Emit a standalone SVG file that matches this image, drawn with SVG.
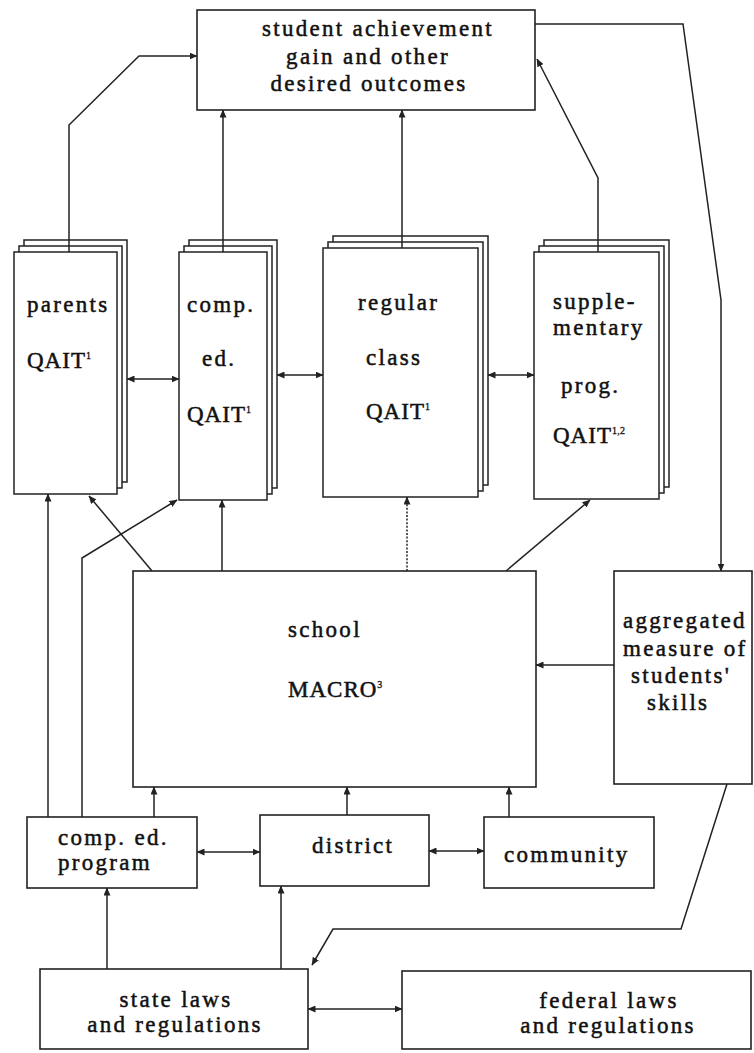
<svg xmlns="http://www.w3.org/2000/svg" width="754" height="1053" viewBox="0 0 754 1053">
<style>
  .box{fill:#fff;stroke:#222;stroke-width:1.6}
  .pg{fill:#fff;stroke:#222;stroke-width:1.5}
  .t{font-family:"Liberation Serif","Times New Roman",serif;font-size:23px;letter-spacing:2.3px;fill:#111;stroke:#111;stroke-width:0.5}
  .m{text-anchor:middle}
  .q{letter-spacing:1px}
  .sup{font-size:10px;letter-spacing:0.3px;stroke-width:0.3}
  .c{fill:none;stroke:#222;stroke-width:1.5}
  .dot{stroke-dasharray:2 1.6}
</style>
<defs>
  <marker id="ah" viewBox="0 0 8 7" refX="7.5" refY="3.5" markerWidth="8" markerHeight="7" markerUnits="userSpaceOnUse" orient="auto-start-reverse">
    <path d="M0,0 L8,3.5 L0,7 z" fill="#222"/>
  </marker>
</defs>
<rect width="754" height="1053" fill="#fff"/>

<g id="outcomes">
  <rect class="box" x="197" y="10" width="338" height="100"/>
  <text class="t m" x="378" y="36">student achievement</text>
  <text class="t m" x="368" y="64">gain and other</text>
  <text class="t m" x="369" y="91">desired outcomes</text>
</g>

<g id="parents">
  <rect class="pg" x="24" y="240" width="103" height="242"/>
  <rect class="pg" x="19" y="246" width="103" height="242"/>
  <rect class="pg" x="14" y="252" width="103" height="242"/>
  <text class="t" x="27" y="312">parents</text>
  <text class="t q" x="27" y="368">QAIT<tspan class="sup" dy="-9">1</tspan></text>
</g>

<g id="comp-ed">
  <rect class="pg" x="189" y="240" width="88" height="248"/>
  <rect class="pg" x="184" y="246" width="88" height="248"/>
  <rect class="pg" x="179" y="252" width="88" height="248"/>
  <text class="t" x="187" y="312">comp.</text>
  <text class="t" x="202" y="366">ed.</text>
  <text class="t q" x="187" y="422">QAIT<tspan class="sup" dy="-9">1</tspan></text>
</g>

<g id="regular-class">
  <rect class="pg" x="333" y="236" width="155" height="249"/>
  <rect class="pg" x="328" y="242" width="155" height="249"/>
  <rect class="pg" x="323" y="248" width="155" height="249"/>
  <text class="t" x="358" y="310">regular</text>
  <text class="t" x="366" y="365">class</text>
  <text class="t q" x="366" y="419">QAIT<tspan class="sup" dy="-9">1</tspan></text>
</g>

<g id="supplementary">
  <rect class="pg" x="544" y="240" width="125" height="247"/>
  <rect class="pg" x="539" y="246" width="125" height="247"/>
  <rect class="pg" x="534" y="252" width="125" height="247"/>
  <text class="t" x="553" y="309">supple-</text>
  <text class="t" x="553" y="335">mentary</text>
  <text class="t" x="561" y="393">prog.</text>
  <text class="t q" x="553" y="443">QAIT<tspan class="sup" dy="-9">1,2</tspan></text>
</g>

<g id="school">
  <rect class="box" x="133" y="571" width="403" height="216"/>
  <text class="t" x="288" y="637">school</text>
  <text class="t q" x="288" y="697">MACRO<tspan class="sup" dy="-9">3</tspan></text>
</g>

<g id="aggregated">
  <rect class="box" x="614" y="571" width="138" height="213"/>
  <text class="t" x="623" y="628">aggregated</text>
  <text class="t" x="623" y="656">measure of</text>
  <text class="t" x="631" y="683">students'</text>
  <text class="t" x="647" y="710">skills</text>
</g>

<g id="comp-ed-program">
  <rect class="box" x="27" y="817" width="170" height="71"/>
  <text class="t" x="58" y="845">comp. ed.</text>
  <text class="t" x="58" y="870">program</text>
</g>

<g id="district">
  <rect class="box" x="260" y="815" width="169" height="71"/>
  <text class="t" x="312" y="853">district</text>
</g>

<g id="community">
  <rect class="box" x="484" y="817" width="170" height="71"/>
  <text class="t" x="504" y="862">community</text>
</g>

<g id="state">
  <rect class="box" x="40" y="969" width="268" height="80"/>
  <text class="t m" x="176" y="1007">state laws</text>
  <text class="t m" x="175" y="1032">and regulations</text>
</g>

<g id="federal">
  <rect class="box" x="402" y="971" width="349" height="78"/>
  <text class="t m" x="609" y="1008">federal laws</text>
  <text class="t m" x="608" y="1033">and regulations</text>
</g>

<g id="connectors">
  <path class="c" d="M69,252 V125 L139,56 H197" marker-end="url(#ah)"/>
  <path class="c" d="M223,252 V110" marker-end="url(#ah)"/>
  <path class="c" d="M402,248 V110" marker-end="url(#ah)"/>
  <path class="c" d="M598,252 V178 L537,59" marker-end="url(#ah)"/>
  <path class="c" d="M535,24 H683 L721,300 V571" marker-end="url(#ah)"/>
  <path class="c" d="M614,665 H536" marker-end="url(#ah)"/>
  <path class="c" d="M152,571 L89,496" marker-end="url(#ah)"/>
  <path class="c" d="M222,571 V500" marker-end="url(#ah)"/>
  <path class="c dot" d="M407,571 V497" marker-end="url(#ah)"/>
  <path class="c" d="M506,571 L590,500" marker-end="url(#ah)"/>
  <path class="c" d="M48,817 V494" marker-end="url(#ah)"/>
  <path class="c" d="M82,817 V558 L177,500" marker-end="url(#ah)"/>
  <path class="c" d="M154,817 V787" marker-end="url(#ah)"/>
  <path class="c" d="M347,815 V787" marker-end="url(#ah)"/>
  <path class="c" d="M509,817 V787" marker-end="url(#ah)"/>
  <path class="c" d="M197,852 H260" marker-start="url(#ah)" marker-end="url(#ah)"/>
  <path class="c" d="M429,851 H484" marker-start="url(#ah)" marker-end="url(#ah)"/>
  <path class="c" d="M107,969 V888" marker-end="url(#ah)"/>
  <path class="c" d="M281,969 V886" marker-end="url(#ah)"/>
  <path class="c" d="M308,1009 H402" marker-start="url(#ah)" marker-end="url(#ah)"/>
  <path class="c" d="M727,784 L681,929 H333 L312,965" marker-end="url(#ah)"/>
  <path class="c" d="M127,379 H179" marker-start="url(#ah)" marker-end="url(#ah)"/>
  <path class="c" d="M277,375 H323" marker-start="url(#ah)" marker-end="url(#ah)"/>
  <path class="c" d="M488,375 H534" marker-start="url(#ah)" marker-end="url(#ah)"/>
</g>
</svg>
